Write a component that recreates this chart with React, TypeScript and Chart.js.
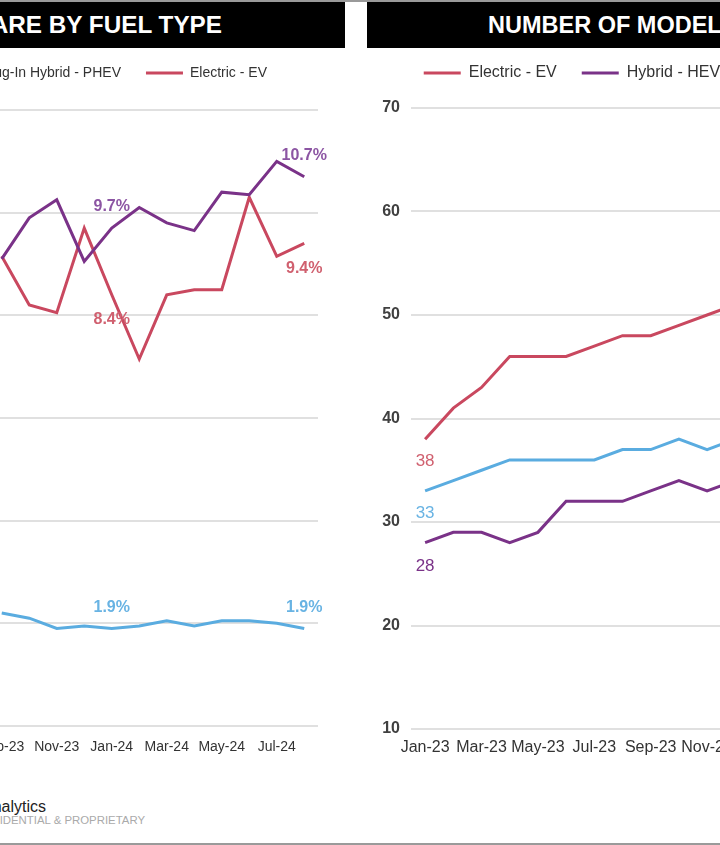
import React, { useEffect, useRef } from 'react';
import { Chart, registerables } from 'chart.js';

Chart.register(...registerables);
Chart.defaults.font.family = "'Liberation Sans', Arial, sans-serif";

// ---------- data ----------
const months = [
  'Jan-23', 'Feb-23', 'Mar-23', 'Apr-23', 'May-23', 'Jun-23', 'Jul-23', 'Aug-23',
  'Sep-23', 'Oct-23', 'Nov-23', 'Dec-23', 'Jan-24', 'Feb-24', 'Mar-24', 'Apr-24',
  'May-24', 'Jun-24', 'Jul-24', 'Aug-24',
];

// Market share (%) – months outside the visible crop are left empty
const shareHEV = [null, null, null, null, null, null, null, null,
  9.1, 9.9, 10.25, 9.05, 9.7, 10.1, 9.8, 9.65, 10.4, 10.35, 11.0, 10.7];
const sharePHEV = [null, null, null, null, null, null, null, null,
  2.2, 2.1, 1.9, 1.95, 1.9, 1.95, 2.05, 1.95, 2.05, 2.05, 2.0, 1.9];
const shareEV = [null, null, null, null, null, null, null, null,
  9.15, 8.2, 8.05, 9.7, 8.4, 7.15, 8.4, 8.5, 8.5, 10.3, 9.15, 9.4];

// Number of models – months outside the visible crop are left empty
const modelsEV = [38, 41, 43, 46, 46, 46, 47, 48, 48, 49, 50, 51,
  null, null, null, null, null, null, null, null];
const modelsHEV = [28, 29, 29, 28, 29, 32, 32, 32, 33, 34, 33, 34,
  null, null, null, null, null, null, null, null];
const modelsPHEV = [33, 34, 35, 36, 36, 36, 36, 37, 37, 38, 37, 38,
  null, null, null, null, null, null, null, null];

const shareTicks = { min: 0, max: 12, step: 2 };
const modelTicks = { min: 10, max: 70, step: 10 };

// ---------- styles ----------
const RED = '#c9485f';
const PURPLE = '#7a3288';
const BLUE = '#5aace0';
const RED_L = '#d0606f';
const PURPLE_L = '#8c55a3';
const BLUE_L = '#68b3e3';
const FONT = "'Liberation Sans', Arial, sans-serif";

// ---------- plugins ----------
const pointLabels = {
  id: 'pointLabels',
  afterDatasetsDraw(chart: any) {
    const ctx = chart.ctx;
    chart.data.datasets.forEach((ds: any, di: number) => {
      const cfg = ds.pointLabels;
      const meta = chart.getDatasetMeta(di);
      if (!cfg || meta.hidden) return;
      ctx.save();
      ctx.font = cfg.font;
      ctx.fillStyle = cfg.color;
      ctx.textAlign = 'center';
      ctx.textBaseline = 'middle';
      cfg.indices.forEach((i: number) => {
        const v = ds.data[i];
        if (v === null || v === undefined) return;
        const el = meta.data[i];
        ctx.fillText(cfg.format(v), el.x + (cfg.dx || 0), el.y + cfg.dy);
      });
      ctx.restore();
    });
  },
};

// adds vertical space under the legend and optionally shifts it sideways
const legendSpacer = {
  id: 'legendSpacer',
  beforeLayout(chart: any, _args: any, opts: any) {
    const legend = chart.legend;
    if (legend && !legend.__spacer) {
      const fit = legend.fit.bind(legend);
      const draw = legend.draw.bind(legend);
      legend.fit = function () {
        fit();
        this.height += (opts && opts.extra) || 0;
      };
      legend.draw = function () {
        const ctx = chart.ctx;
        ctx.save();
        ctx.translate((opts && opts.dx) || 0, 0);
        draw();
        ctx.restore();
      };
      legend.__spacer = true;
    }
  },
};

function line(label: string, data: any[], color: string, labels: any) {
  return {
    label,
    data,
    borderColor: color,
    backgroundColor: color,
    borderWidth: 3,
    pointRadius: 0,
    pointHoverRadius: 0,
    tension: 0,
    spanGaps: false,
    pointLabels: labels,
  };
}

function makeConfig(p: any) {
  return {
    type: 'line',
    data: { labels: months, datasets: p.datasets },
    options: {
      animation: false,
      responsive: false,
      events: [],
      layout: { padding: p.padding },
      plugins: {
        legend: {
          position: 'top',
          labels: {
            usePointStyle: true,
            pointStyle: 'line',
            pointStyleWidth: 37,
            padding: 25,
            color: '#333333',
            font: { size: p.legendSize, family: FONT },
          },
        },
        tooltip: { enabled: false },
        legendSpacer: { extra: p.legendExtra, dx: p.legendDx },
      },
      scales: {
        x: {
          offset: true,
          grid: { display: false, drawTicks: false },
          border: { display: false },
          ticks: {
            autoSkip: false,
            maxRotation: 0,
            minRotation: 0,
            padding: p.xPad,
            color: '#333333',
            font: { size: p.xSize, family: FONT },
            callback: (_v: any, i: number) => (i % 2 === 0 ? months[i] : ''),
          },
          afterFit: (s: any) => { s.height = p.xHeight; },
        },
        y: {
          min: p.yTicks.min,
          max: p.yTicks.max,
          grid: { color: '#e0e0e0', lineWidth: 2, drawTicks: false },
          border: { display: false },
          ticks: {
            stepSize: p.yTicks.step,
            padding: 11,
            color: '#404040',
            font: { size: p.ySize, weight: 'bold', family: FONT },
            callback: p.yFmt,
          },
          afterFit: (s: any) => { s.width = p.yWidth; },
        },
      },
    },
    plugins: [pointLabels, legendSpacer],
  };
}

function LineChart({ config, left, top, width, height }: any) {
  const ref = useRef<HTMLCanvasElement>(null);
  useEffect(() => {
    const chart = new Chart(ref.current as HTMLCanvasElement, config);
    return () => chart.destroy();
  }, []);
  return (
    <canvas
      ref={ref}
      width={width}
      height={height}
      style={{ position: 'absolute', left, top, width, height }}
    />
  );
}

export default function App() {
  const leftLbl = (color: string, dy: number) => ({
    indices: [0, 12, 19], dy, color, font: `bold 16px ${FONT}`,
    format: (v: number) => v.toFixed(1) + '%',
  });
  const rightLbl = (color: string, dy: number) => ({
    indices: [0, 12, 19], dy, color, font: `17px ${FONT}`,
    format: (v: number) => String(v),
  });

  const shareConfig = makeConfig({
    datasets: [
      line('Hybrid - HEV', shareHEV, PURPLE, leftLbl(PURPLE_L, -21)),
      line('Plug-In Hybrid - PHEV', sharePHEV, BLUE, leftLbl(BLUE_L, -21)),
      line('Electric - EV', shareEV, RED, leftLbl(RED_L, 25)),
    ],
    padding: { top: 1, right: 30, left: 28, bottom: 0 },
    legendSize: 14,
    legendExtra: 20,
    legendDx: 0,
    xSize: 14,
    xPad: 13,
    xHeight: 50,
    ySize: 14,
    yWidth: 32,
    yTicks: shareTicks,
    yFmt: (v: any) => v + '%',
  });

  const modelConfig = makeConfig({
    datasets: [
      line('Electric - EV', modelsEV, RED, rightLbl(RED_L, 22)),
      line('Hybrid - HEV', modelsHEV, PURPLE, rightLbl(PURPLE, 24)),
      line('Plug-In Hybrid - PHEV', modelsPHEV, BLUE, rightLbl(BLUE_L, 22)),
    ],
    padding: { top: 0, right: 30, left: 0, bottom: 0 },
    legendSize: 16,
    legendExtra: 17,
    legendDx: 14,
    xSize: 16,
    xPad: 9,
    xHeight: 47,
    ySize: 16,
    yWidth: 41,
    yTicks: modelTicks,
    yFmt: (v: any) => String(v),
  });

  return (
    <div
      style={{
        position: 'fixed', left: 0, top: 0, width: 720, height: 845,
        overflow: 'hidden', background: '#ffffff', fontFamily: FONT,
      }}
    >
      <div style={{ position: 'absolute', left: 0, top: 0, width: 720, height: 2, background: '#9a9a9a' }} />
      <div style={{ position: 'absolute', left: -300, top: 2, width: 645, height: 46, background: '#000' }} />
      <div style={{ position: 'absolute', left: 367, top: 2, width: 400, height: 46, background: '#000' }} />
      <div
        style={{
          position: 'absolute', right: 498, top: 2, height: 46, lineHeight: '46px',
          whiteSpace: 'nowrap', color: '#fff', fontWeight: 'bold', fontSize: 24.3,
        }}
      >
        MARKET SHARE BY FUEL TYPE
      </div>
      <div
        style={{
          position: 'absolute', left: 488, top: 2, height: 46, lineHeight: '46px',
          whiteSpace: 'nowrap', color: '#fff', fontWeight: 'bold', fontSize: 23.5,
        }}
      >
        NUMBER OF MODELS BY FUEL TYPE
      </div>

      <LineChart config={shareConfig} left={-292} top={40} width={640} height={736} />
      <LineChart config={modelConfig} left={370} top={40} width={635} height={736} />

      <div
        style={{
          position: 'absolute', right: 674, top: 797, lineHeight: '20px',
          whiteSpace: 'nowrap', color: '#222', fontSize: 16,
        }}
      >
        Analytics
      </div>
      <div
        style={{
          position: 'absolute', right: 575, top: 813, lineHeight: '14px',
          whiteSpace: 'nowrap', color: '#aaaaaa', fontSize: 11.4,
        }}
      >
        CONFIDENTIAL &amp; PROPRIETARY
      </div>
      <div style={{ position: 'absolute', left: 0, top: 843, width: 720, height: 2, background: '#9a9a9a' }} />
    </div>
  );
}
